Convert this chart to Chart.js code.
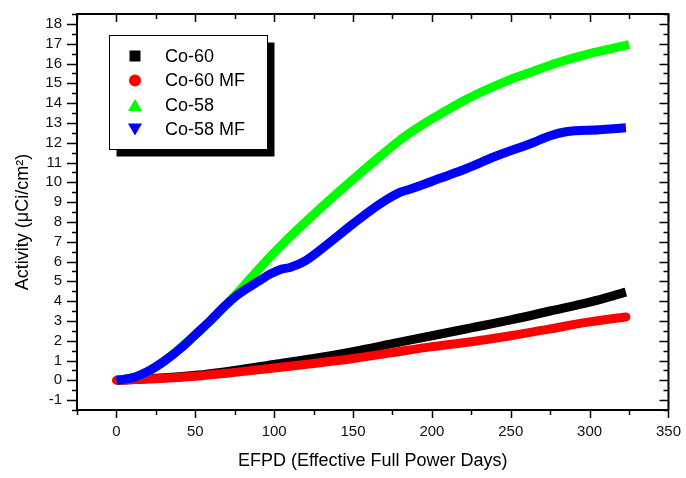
<!DOCTYPE html>
<html>
<head>
<meta charset="utf-8">
<script src="https://cdn.jsdelivr.net/npm/chart.js@4.4.1/dist/chart.umd.min.js"></script>
<style>
  html, body { margin: 0; padding: 0; background: #fff; }
  #wrap { width: 686px; height: 478px; }
</style>
</head>
<body>
<div id="wrap"><canvas id="activity"></canvas></div>
<script>
const seriesNames = ["Co-60", "Co-60 MF", "Co-58", "Co-58 MF"];

const co60Days = [0, 25, 50, 75, 100, 125, 150, 175, 200, 225, 250, 275, 300, 323];
const co60Act = [0, 0.1, 0.25, 0.5, 0.8, 1.1, 1.45, 1.85, 2.25, 2.65, 3.05, 3.5, 3.95, 4.45];

const co60mfDays = [0, 25, 50, 75, 100, 125, 150, 175, 200, 225, 250, 275, 300, 323];
const co60mfAct = [0, 0.08, 0.2, 0.4, 0.62, 0.85, 1.1, 1.4, 1.7, 1.95, 2.25, 2.6, 2.95, 3.2];

const co58Days = [0, 10, 20, 30, 40, 50, 60, 70, 80, 90, 100, 110, 120, 135, 150, 167, 180, 190, 200, 222, 250, 264, 280, 300, 325];
const co58Act = [0, 0.12, 0.45, 0.95, 1.6, 2.3, 3.05, 3.85, 4.7, 5.6, 6.45, 7.25, 8.0, 9.1, 10.15, 11.3, 12.15, 12.7, 13.2, 14.2, 15.2, 15.6, 16.05, 16.5, 16.95];

const co58mfDays = [0, 10, 21, 30, 42, 50, 60, 68, 75, 83, 90, 97, 104, 110, 120, 135, 150, 167, 180, 186, 195, 205, 222, 240, 264, 275, 285, 306, 323];
const co58mfAct = [0, 0.12, 0.5, 0.95, 1.7, 2.3, 3.05, 3.7, 4.2, 4.65, 5.0, 5.35, 5.6, 5.7, 6.05, 6.95, 7.9, 8.9, 9.5, 9.65, 9.9, 10.2, 10.7, 11.3, 12.0, 12.35, 12.55, 12.65, 12.75];

const xTicks = [0, 50, 100, 150, 200, 250, 300, 350];
const yTicks = [-1, 0, 1, 2, 3, 4, 5, 6, 7, 8, 9, 10, 11, 12, 13, 14, 15, 16, 17, 18];

const colors = ['#000000', '#ff0000', '#00ff00', '#0000ff'];
const markers = ['rect', 'circle', 'triangle', 'triangleDown'];

function pts(xs, ys) {
  return xs.map((x, i) => ({ x: x, y: ys[i] }));
}

const font = "'Liberation Sans', Arial, sans-serif";

// ticks on all four sides, minor ticks included
const frameTicks = {
  id: 'frameTicks',
  afterDraw(chart) {
    const ctx = chart.ctx;
    const a = chart.chartArea;
    const xs = chart.scales.x, ys = chart.scales.y;
    ctx.save();
    ctx.strokeStyle = '#000';
    ctx.lineWidth = 2;
    ctx.beginPath();
    ctx.moveTo(a.left, a.top); ctx.lineTo(a.right, a.top); ctx.lineTo(a.right, a.bottom);
    ctx.stroke();
    ctx.lineWidth = 1.5;
    ctx.beginPath();
    for (let v = xs.min; v <= xs.max + 0.01; v += 25) {
      const px = Math.round(xs.getPixelForValue(v)) + 0.5;
      const major = v % 50 === 0;
      ctx.moveTo(px, a.bottom); ctx.lineTo(px, a.bottom + (major ? 8 : 5));
      ctx.moveTo(px, a.top); ctx.lineTo(px, a.top + (major ? 8 : 5));
    }
    for (let v = ys.min; v <= ys.max + 0.01; v += 0.5) {
      const py = Math.round(ys.getPixelForValue(v)) + 0.5;
      const major = Math.abs(v - Math.round(v)) < 0.01;
      ctx.moveTo(a.left, py); ctx.lineTo(a.left - (major ? 10 : 5), py);
      ctx.moveTo(a.right, py); ctx.lineTo(a.right - (major ? 9 : 5), py);
    }
    ctx.stroke();

    // y title
    ctx.fillStyle = '#000';
    ctx.font = '18px ' + font;
    ctx.textAlign = 'center';
    ctx.textBaseline = 'middle';
    ctx.translate(23, 222);
    ctx.rotate(-Math.PI / 2);
    ctx.fillText('Activity (\u03BCCi/cm\u00B2)', 0, 0);
    ctx.restore();

    // legend with shadow
    ctx.save();
    const bx = 109.5, by = 35.5, bw = 158, bh = 114;
    ctx.fillStyle = '#000';
    ctx.fillRect(bx + 7, by + 7, bw, bh);
    ctx.fillStyle = '#fff';
    ctx.fillRect(bx, by, bw, bh);
    ctx.strokeStyle = '#000';
    ctx.lineWidth = 1;
    ctx.strokeRect(bx, by, bw, bh);
    ctx.font = '18px ' + font;
    ctx.textAlign = 'left';
    ctx.textBaseline = 'middle';
    chart.data.datasets.forEach((ds, i) => {
      const cy = 56 + i * 24.5;
      const cx = 135;
      ctx.fillStyle = colors[i];
      ctx.beginPath();
      if (markers[i] === 'rect') {
        ctx.rect(cx - 5.5, cy - 5.5, 11, 11);
      } else if (markers[i] === 'circle') {
        ctx.arc(cx, cy, 6, 0, Math.PI * 2);
      } else if (markers[i] === 'triangle') {
        ctx.moveTo(cx, cy - 6); ctx.lineTo(cx + 7, cy + 6); ctx.lineTo(cx - 7, cy + 6); ctx.closePath();
      } else {
        ctx.moveTo(cx - 7, cy - 6); ctx.lineTo(cx + 7, cy - 6); ctx.lineTo(cx, cy + 6); ctx.closePath();
      }
      ctx.fill();
      ctx.fillStyle = '#000';
      ctx.fillText(ds.label, 165, cy + 1);
    });
    ctx.restore();
  }
};

const activityChart = new Chart(document.getElementById('activity').getContext('2d'), {
  type: 'line',
  data: {
    datasets: [
      { label: seriesNames[0], data: pts(co60Days, co60Act), borderColor: colors[0], order: 4 },
      { label: seriesNames[1], data: pts(co60mfDays, co60mfAct), borderColor: colors[1], order: 3, borderCapStyle: 'round' },
      { label: seriesNames[2], data: pts(co58Days, co58Act), borderColor: colors[2], order: 2 },
      { label: seriesNames[3], data: pts(co58mfDays, co58mfAct), borderColor: colors[3], order: 1 }
    ]
  },
  options: {
    responsive: true,
    maintainAspectRatio: false,
    animation: false,
    layout: { padding: { top: 6, right: 17, left: 0, bottom: 0 } },
    elements: {
      line: { borderWidth: 9, cubicInterpolationMode: 'monotone', fill: false },
      point: { radius: 0, hoverRadius: 0 }
    },
    scales: {
      x: {
        type: 'linear',
        min: -25,
        max: 350,
        afterBuildTicks: s => { s.ticks = xTicks.map(v => ({ value: v })); },
        afterFit: s => { s.height = 68; },
        grid: { display: true, drawOnChartArea: false, drawTicks: true, tickLength: 8, color: 'rgba(0,0,0,0)' },
        border: { display: true, color: '#000', width: 2 },
        ticks: { color: '#111', font: { family: font, size: 15 }, padding: 5, maxRotation: 0, autoSkip: false },
        title: {
          display: true,
          text: 'EFPD (Effective Full Power Days)',
          color: '#000',
          font: { family: font, size: 18 },
          padding: { top: 5, bottom: 6 }
        }
      },
      y: {
        type: 'linear',
        min: -1.5,
        max: 18.5,
        afterBuildTicks: s => { s.ticks = yTicks.map(v => ({ value: v })); },
        afterFit: s => { s.width = 77; },
        grid: { display: true, drawOnChartArea: false, drawTicks: true, tickLength: 10, color: 'rgba(0,0,0,0)' },
        border: { display: true, color: '#000', width: 2 },
        ticks: { color: '#111', font: { family: font, size: 15 }, padding: 5, autoSkip: false }
      }
    },
    plugins: {
      legend: { display: false },
      tooltip: { enabled: false }
    }
  },
  plugins: [frameTicks]
});
</script>
</body>
</html>
